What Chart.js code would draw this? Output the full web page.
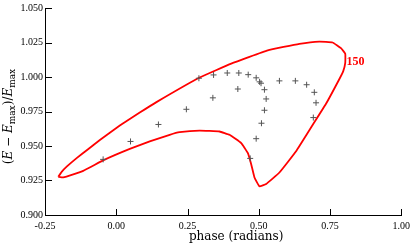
<!DOCTYPE html>
<html>
<head>
<meta charset="utf-8">
<script src="https://cdn.jsdelivr.net/npm/chart.js@4"></script>
<style>
  body { margin: 0; background: #fff; }
</style>
</head>
<body>
<canvas id="phaseChart" width="415" height="244"></canvas>
<script>
// Closed energy contour (red line)
const curvePhase = [-0.2035, -0.1915, -0.174, -0.139, -0.1, -0.0575, 0.0125, 0.0825, 0.141, 0.2925,
  0.4035, 0.5316, 0.6425, 0.7125, 0.759, 0.7885, 0.8035, 0.8035, 0.7965, 0.7825,
  0.736, 0.689, 0.631, 0.5725, 0.526, 0.5025, 0.485, 0.4735, 0.4615, 0.4385,
  0.3975, 0.3625, 0.2925, 0.2225, 0.1875, 0.1175, 0.0475, -0.046, -0.116, -0.186, -0.2035];
const curveEnergy = [0.9277, 0.9312, 0.9350, 0.9412, 0.9475, 0.9543, 0.9648, 0.9742, 0.9818, 0.9996,
  1.0097, 1.0193, 1.024, 1.0257, 1.025, 1.0209, 1.0169, 1.0102, 1.0043, 0.9984,
  0.9806, 0.9652, 0.9462, 0.9308, 0.9225, 0.9208, 0.9272, 0.9368, 0.945, 0.9521,
  0.9581, 0.9605, 0.9612, 0.960, 0.9581, 0.9533, 0.9479, 0.9396, 0.932, 0.9272, 0.9277];

// Gray "+" samples
const markerPhase = [-0.046, 0.050, 0.148, 0.246, 0.290, 0.3415, 0.339, 0.3895, 0.430, 0.4266,
  0.463, 0.491, 0.503, 0.508, 0.520, 0.526, 0.520, 0.5095, 0.491, 0.470,
  0.5725, 0.6285, 0.668, 0.695, 0.701, 0.6915];
const markerEnergy = [0.9403, 0.9533, 0.9656, 0.9766, 0.9991, 1.0015, 0.9849, 1.0029, 1.0029, 0.9913,
  1.0017, 0.9994, 0.9965, 0.9955, 0.9908, 0.9841, 0.9759, 0.9665, 0.9553, 0.941,
  0.9972, 0.9972, 0.9944, 0.9889, 0.9813, 0.9706];

const xTicks = [-0.25, 0.00, 0.25, 0.50, 0.75, 1.00];
const yTicks = [0.900, 0.925, 0.950, 0.975, 1.000, 1.025, 1.050];

const curveLabel = "150";
const curveLabelAt = { x: 0.808, y: 1.0111 };

const serif = "'Liberation Serif', 'DejaVu Serif', serif";
const titleSerif = "'DejaVu Serif', serif";

// Inward tick marks, axis titles and the contour label
const decorations = {
  id: "decorations",
  afterDraw(chart) {
    const ctx = chart.ctx;
    const area = chart.chartArea;
    const xs = chart.scales.x;
    const ys = chart.scales.y;
    ctx.save();
    ctx.strokeStyle = "#000";
    ctx.lineWidth = 1;
    ctx.beginPath();
    xTicks.forEach(v => {
      const px = Math.round(xs.getPixelForValue(v)) + 0.5;
      ctx.moveTo(px, area.bottom);
      ctx.lineTo(px, area.bottom - 6);
    });
    yTicks.forEach(v => {
      const py = Math.round(ys.getPixelForValue(v)) + 0.5;
      ctx.moveTo(area.left, py);
      ctx.lineTo(area.left + 7, py);
    });
    ctx.stroke();

    // x title
    ctx.fillStyle = "#000";
    ctx.font = "12px " + titleSerif;
    ctx.textAlign = "center";
    ctx.textBaseline = "alphabetic";
    ctx.fillText("phase (radians)", (area.left + area.right) / 2 + 13, 240);

    // y title (E − E_max)/E_max, rotated
    const norm = "12px " + titleSerif;
    const ital = "italic 12px " + titleSerif;
    const sub = "9px " + titleSerif;
    const parts = [
      ["(", norm, 0], ["E", ital, 0], [" \u2212 ", norm, 0], ["E", ital, 0], ["max", sub, 2.5],
      [")", norm, 0], ["/", norm, 0], ["E", ital, 0], ["max", sub, 2.5]
    ];
    let total = 0;
    parts.forEach(p => { ctx.font = p[1]; total += ctx.measureText(p[0]).width; });
    ctx.translate(12, (area.top + area.bottom) / 2 + 5);
    ctx.rotate(-Math.PI / 2);
    ctx.textAlign = "left";
    let cx = -total / 2;
    parts.forEach(p => {
      ctx.font = p[1];
      ctx.fillText(p[0], cx, p[2]);
      cx += ctx.measureText(p[0]).width;
    });
    ctx.restore();

    // contour label
    ctx.save();
    ctx.fillStyle = "#ff0000";
    ctx.font = "bold 12px " + serif;
    ctx.textAlign = "left";
    ctx.textBaseline = "middle";
    ctx.fillText(curveLabel, xs.getPixelForValue(curveLabelAt.x), ys.getPixelForValue(curveLabelAt.y));
    ctx.restore();
  }
};

new Chart(document.getElementById("phaseChart"), {
  type: "scatter",
  data: {
    datasets: [
      {
        label: "contour",
        data: curvePhase.map((x, i) => ({ x: x, y: curveEnergy[i] })),
        showLine: true,
        borderColor: "#ff0000",
        borderWidth: 1.8,
        pointRadius: 0,
        tension: 0.1,
        fill: false,
        order: 1,
      },
      {
        label: "samples",
        data: markerPhase.map((x, i) => ({ x: x, y: markerEnergy[i] })),
        pointStyle: "cross",
        pointRadius: 3,
        borderColor: "#555",
        backgroundColor: "#555",
        pointBorderWidth: 1,
        order: 0,
      },
    ],
  },
  options: {
    responsive: false,
    animation: false,
    devicePixelRatio: 1,
    layout: { padding: { top: 4, right: 13, left: 0, bottom: 0 } },
    plugins: { legend: { display: false }, tooltip: { enabled: false } },
    scales: {
      x: {
        type: "linear",
        min: -0.25,
        max: 1.0,
        afterBuildTicks: (s) => { s.ticks = xTicks.map(v => ({ value: v })); },
        afterFit: (s) => { s.height = 29; },
        grid: { display: false, drawTicks: false },
        border: { display: true, color: "#000", width: 1 },
        ticks: {
          autoSkip: false,
          maxRotation: 0,
          padding: 5,
          color: "#000",
          font: { family: serif, size: 10 },
          callback: (v) => Number(v).toFixed(2),
        },
      },
      y: {
        type: "linear",
        min: 0.9,
        max: 1.05,
        afterBuildTicks: (s) => { s.ticks = yTicks.map(v => ({ value: v })); },
        afterFit: (s) => { s.width = 45; },
        grid: { display: false, drawTicks: false },
        border: { display: true, color: "#000", width: 1 },
        ticks: {
          autoSkip: false,
          padding: 2,
          color: "#000",
          font: { family: serif, size: 10 },
          callback: (v) => Number(v).toFixed(3),
        },
      },
    },
  },
  plugins: [decorations],
});
</script>
</body>
</html>
